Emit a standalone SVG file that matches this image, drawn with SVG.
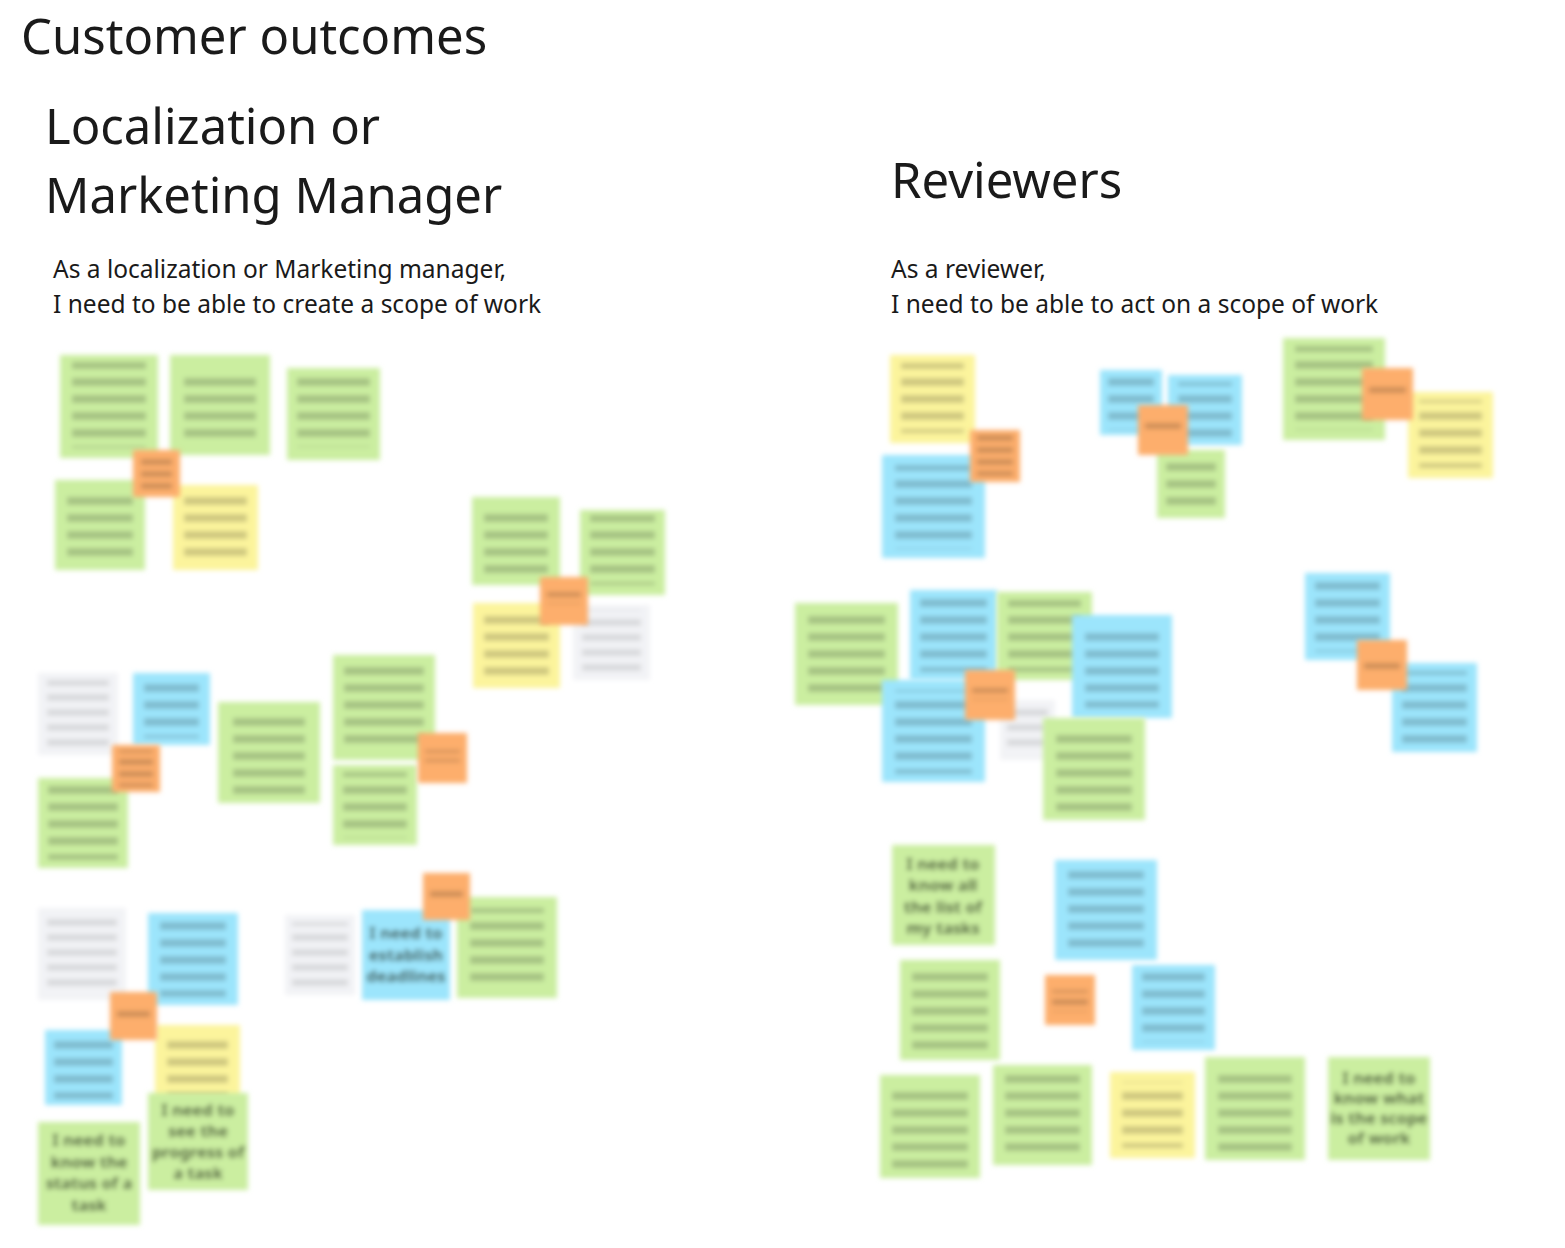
<svg xmlns="http://www.w3.org/2000/svg" width="1565" height="1248" viewBox="0 0 1565 1248">
<defs>
<filter id="blur" x="-20%" y="-20%" width="140%" height="140%"><feGaussianBlur stdDeviation="2.8"/></filter>
<pattern id="lines" patternUnits="userSpaceOnUse" width="10" height="17"><rect x="0" y="4" width="10" height="8" fill="#000" fill-opacity="0.18"/></pattern>
<pattern id="lines2" patternUnits="userSpaceOnUse" width="10" height="12"><rect x="0" y="3" width="10" height="6" fill="#000" fill-opacity="0.18"/></pattern>
<pattern id="lines3" patternUnits="userSpaceOnUse" width="10" height="15"><rect x="0" y="4" width="10" height="7" fill="#000" fill-opacity="0.1"/></pattern>
</defs>
<style>
.h1{font-family:"Noto Sans","Open Sans",sans-serif;font-size:49px;fill:#1a1a1a}
.h2{font-family:"Noto Sans","Open Sans",sans-serif;font-size:49px;fill:#1a1a1a}
.p{font-family:"Noto Sans","Open Sans",sans-serif;font-size:24.5px;fill:#1a1a1a}
.note{filter:url(#blur)}
.g{fill:#cbeea0}.b{fill:#9ce5fc}.y{fill:#fcf49c}.o{fill:#fdae6c}.w{fill:#f2f3f6}
.t{fill:url(#lines)}.t2{fill:url(#lines2)}.t3{fill:url(#lines3)}
.nt{font-family:"Noto Sans","Open Sans",sans-serif;font-size:16.5px;font-weight:700;fill:#1f2a18;fill-opacity:0.8;text-anchor:middle}
</style>
<g id="titles">
<text class="h1" x="21" y="54">Customer outcomes</text>
<text class="h2" x="45" y="144">Localization or</text>
<text class="h2" x="45" y="213">Marketing Manager</text>
<text class="h2" x="891" y="198">Reviewers</text>
<text class="p" x="53" y="278">As a localization or Marketing manager,</text>
<text class="p" x="53" y="313">I need to be able to create a scope of work</text>
<text class="p" x="891" y="278">As a reviewer,</text>
<text class="p" x="891" y="313">I need to be able to act on a scope of work</text>
</g>
<g id="connectors"></g>
<g id="left-notes">
<g id="n1" class="note"><rect class="g" x="60" y="355" width="98" height="103"/><rect class="t" x="72" y="362" width="74" height="86"/></g>
<g id="n2" class="note"><rect class="g" x="170" y="355" width="100" height="100"/><rect class="t" x="184" y="370" width="72" height="70"/></g>
<g id="n3" class="note"><rect class="g" x="287" y="368" width="93" height="92"/><rect class="t" x="297" y="375" width="73" height="72"/></g>
<g id="n5" class="note"><rect class="g" x="55" y="480" width="90" height="90"/><rect class="t" x="67" y="490" width="66" height="70"/></g>
<g id="n6" class="note"><rect class="y" x="173" y="485" width="85" height="85"/><rect class="t" x="184" y="492" width="63" height="68"/></g>
<g id="n4" class="note"><rect class="o" x="133" y="450" width="47" height="47"/><rect class="t2" x="141" y="453" width="31" height="38"/></g>
<g id="n7" class="note"><rect class="g" x="472" y="497" width="88" height="88"/><rect class="t" x="484" y="508" width="64" height="68"/></g>
<g id="n8" class="note"><rect class="g" x="580" y="510" width="85" height="85"/><rect class="t" x="590" y="515" width="65" height="70"/></g>
<g id="n10" class="note"><rect class="y" x="473" y="603" width="87" height="85"/><rect class="t" x="484" y="610" width="65" height="70"/></g>
<g id="n11" class="note"><rect class="w" x="573" y="605" width="77" height="75"/><rect class="t3" x="582" y="610" width="59" height="62"/></g>
<g id="n9" class="note"><rect class="o" x="540" y="577" width="48" height="48"/><rect class="t2" x="547" y="592" width="34" height="12"/></g>
<g id="n12" class="note"><rect class="w" x="38" y="673" width="80" height="82"/><rect class="t3" x="47" y="680" width="62" height="68"/></g>
<g id="n13" class="note"><rect class="b" x="133" y="673" width="77" height="72"/><rect class="t" x="144" y="680" width="55" height="58"/></g>
<g id="n15" class="note"><rect class="g" x="38" y="778" width="90" height="90"/><rect class="t" x="48" y="785" width="70" height="75"/></g>
<g id="n14" class="note"><rect class="o" x="112" y="745" width="48" height="47"/><rect class="t2" x="119" y="750" width="34" height="37"/></g>
<g id="n16" class="note"><rect class="g" x="218" y="702" width="102" height="101"/><rect class="t" x="233" y="712" width="72" height="82"/></g>
<g id="n17" class="note"><rect class="g" x="333" y="655" width="102" height="105"/><rect class="t" x="344" y="664" width="80" height="86"/></g>
<g id="n18" class="note"><rect class="g" x="333" y="765" width="84" height="80"/><rect class="t" x="343" y="772" width="64" height="66"/></g>
<g id="n19" class="note"><rect class="o" x="418" y="733" width="49" height="50"/><rect class="t2" x="425" y="750" width="35" height="12"/></g>
<g id="n21" class="note"><rect class="w" x="38" y="908" width="88" height="92"/><rect class="t3" x="47" y="918" width="70" height="70"/></g>
<g id="n22" class="note"><rect class="b" x="148" y="913" width="90" height="92"/><rect class="t" x="160" y="921" width="66" height="76"/></g>
<g id="n24" class="note"><rect class="b" x="45" y="1030" width="77" height="75"/><rect class="t" x="54" y="1036" width="59" height="63"/></g>
<g id="n25" class="note"><rect class="y" x="155" y="1025" width="85" height="75"/><rect class="t" x="167" y="1032" width="61" height="65"/></g>
<g id="n23" class="note"><rect class="o" x="110" y="992" width="47" height="48"/><rect class="t2" x="117" y="1007" width="33" height="12"/></g>
<g id="n26" class="note"><rect class="g" x="148" y="1093" width="100" height="97"/><text class="nt" x="198" y="1116">I need to</text><text class="nt" x="198" y="1137">see the</text><text class="nt" x="198" y="1158">progress of</text><text class="nt" x="198" y="1179">a task</text></g>
<g id="n27" class="note"><rect class="g" x="38" y="1122" width="102" height="103"/><text class="nt" x="89" y="1146">I need to</text><text class="nt" x="89" y="1168">know the</text><text class="nt" x="89" y="1189">status of a</text><text class="nt" x="89" y="1211">task</text></g>
<g id="n28" class="note"><rect class="w" x="285" y="915" width="70" height="80"/><rect class="t3" x="292" y="922" width="56" height="66"/></g>
<g id="n29" class="note"><rect class="b" x="362" y="910" width="88" height="90"/><text class="nt" x="406" y="939">I need to</text><text class="nt" x="406" y="961">establish</text><text class="nt" x="406" y="982">deadlines</text></g>
<g id="n30" class="note"><rect class="g" x="457" y="897" width="100" height="101"/><rect class="t" x="470" y="908" width="74" height="80"/></g>
<g id="n20" class="note"><rect class="o" x="423" y="873" width="47" height="47"/><rect class="t2" x="430" y="888" width="33" height="12"/></g>
</g>
<g id="right-notes">
<g id="n31" class="note"><rect class="y" x="890" y="355" width="85" height="88"/><rect class="t" x="901" y="363" width="63" height="70"/></g>
<g id="n33" class="note"><rect class="b" x="882" y="455" width="103" height="103"/><rect class="t" x="895" y="465" width="77" height="84"/></g>
<g id="n32" class="note"><rect class="o" x="970" y="430" width="50" height="52"/><rect class="t2" x="977" y="434" width="36" height="42"/></g>
<g id="n34" class="note"><rect class="b" x="1100" y="370" width="62" height="65"/><rect class="t" x="1108" y="376" width="46" height="54"/></g>
<g id="n35" class="note"><rect class="b" x="1168" y="375" width="74" height="70"/><rect class="t" x="1178" y="382" width="54" height="56"/></g>
<g id="n37" class="note"><rect class="g" x="1157" y="450" width="68" height="68"/><rect class="t" x="1166" y="456" width="50" height="56"/></g>
<g id="n36" class="note"><rect class="o" x="1138" y="405" width="50" height="50"/><rect class="t2" x="1145" y="422" width="36" height="12"/></g>
<g id="n38" class="note"><rect class="g" x="1283" y="338" width="102" height="102"/><rect class="t" x="1295" y="346" width="78" height="84"/></g>
<g id="n40" class="note"><rect class="y" x="1408" y="392" width="85" height="86"/><rect class="t" x="1419" y="400" width="63" height="68"/></g>
<g id="n39" class="note"><rect class="o" x="1362" y="368" width="51" height="52"/><rect class="t2" x="1369" y="386" width="37" height="12"/></g>
<g id="n41" class="note"><rect class="g" x="795" y="603" width="103" height="102"/><rect class="t" x="808" y="612" width="77" height="84"/></g>
<g id="n42" class="note"><rect class="b" x="910" y="590" width="87" height="90"/><rect class="t" x="920" y="598" width="67" height="74"/></g>
<g id="n43" class="note"><rect class="g" x="997" y="592" width="95" height="88"/><rect class="t" x="1008" y="600" width="73" height="72"/></g>
<g id="n44" class="note"><rect class="b" x="1072" y="615" width="100" height="103"/><rect class="t" x="1085" y="626" width="74" height="82"/></g>
<g id="n45" class="note"><rect class="b" x="882" y="680" width="103" height="102"/><rect class="t" x="895" y="690" width="77" height="84"/></g>
<g id="n47" class="note"><rect class="w" x="1000" y="700" width="55" height="60"/><rect class="t3" x="1007" y="706" width="41" height="48"/></g>
<g id="n46" class="note"><rect class="o" x="965" y="670" width="50" height="50"/><rect class="t2" x="972" y="688" width="36" height="12"/></g>
<g id="n48" class="note"><rect class="g" x="1043" y="718" width="102" height="102"/><rect class="t" x="1056" y="728" width="76" height="84"/></g>
<g id="n49" class="note"><rect class="b" x="1305" y="573" width="85" height="87"/><rect class="t" x="1315" y="580" width="65" height="72"/></g>
<g id="n51" class="note"><rect class="b" x="1392" y="663" width="85" height="89"/><rect class="t" x="1402" y="671" width="65" height="73"/></g>
<g id="n50" class="note"><rect class="o" x="1357" y="640" width="50" height="50"/><rect class="t2" x="1364" y="658" width="36" height="12"/></g>
<g id="n52" class="note"><rect class="g" x="892" y="845" width="103" height="100"/><text class="nt" x="943" y="870">I need to</text><text class="nt" x="943" y="891">know all</text><text class="nt" x="943" y="913">the list of</text><text class="nt" x="943" y="934">my tasks</text></g>
<g id="n53" class="note"><rect class="b" x="1055" y="860" width="102" height="100"/><rect class="t" x="1068" y="870" width="76" height="82"/></g>
<g id="n54" class="note"><rect class="g" x="900" y="960" width="100" height="100"/><rect class="t" x="912" y="970" width="76" height="82"/></g>
<g id="n55" class="note"><rect class="o" x="1045" y="975" width="50" height="50"/><rect class="t2" x="1052" y="990" width="36" height="22"/></g>
<g id="n56" class="note"><rect class="b" x="1132" y="965" width="83" height="85"/><rect class="t" x="1142" y="972" width="63" height="70"/></g>
<g id="n57" class="note"><rect class="g" x="880" y="1075" width="100" height="103"/><rect class="t" x="892" y="1085" width="76" height="84"/></g>
<g id="n58" class="note"><rect class="g" x="993" y="1065" width="99" height="100"/><rect class="t" x="1005" y="1075" width="75" height="82"/></g>
<g id="n59" class="note"><rect class="y" x="1110" y="1072" width="85" height="86"/><rect class="t" x="1122" y="1082" width="61" height="66"/></g>
<g id="n60" class="note"><rect class="g" x="1205" y="1057" width="100" height="103"/><rect class="t" x="1218" y="1067" width="74" height="84"/></g>
<g id="n61" class="note"><rect class="g" x="1328" y="1057" width="102" height="103"/><text class="nt" x="1379" y="1084">I need to</text><text class="nt" x="1379" y="1104">know what</text><text class="nt" x="1379" y="1124">is the scope</text><text class="nt" x="1379" y="1144">of work</text></g>
</g>
</svg>
